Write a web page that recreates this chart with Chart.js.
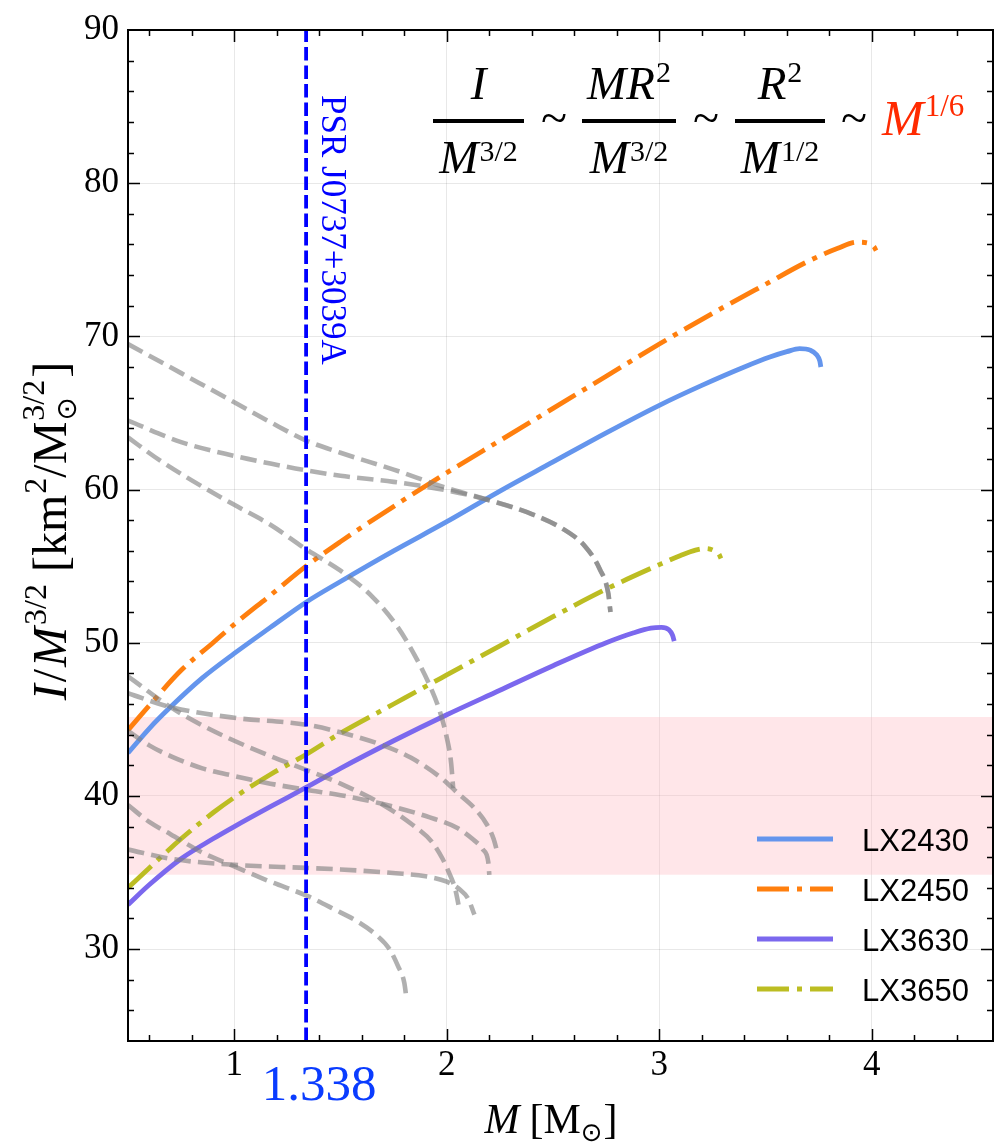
<!DOCTYPE html>
<html>
<head>
<meta charset="utf-8">
<script src="https://cdn.jsdelivr.net/npm/chart.js@4.4.1/dist/chart.umd.min.js"></script>
<style>
  html, body { margin: 0; padding: 0; background: #fff; }
  #wrap { width: 996px; height: 1142px; }
</style>
</head>
<body>
<div id="wrap"><canvas id="chart" width="996" height="1142"></canvas></div>
<script>
// axis ranges and ticks
const massMin = 0.5, massMax = 4.57;
const inertiaMin = 24, inertiaMax = 90;
const massTicks = [1, 2, 3, 4];
const inertiaTicks = [30, 40, 50, 60, 70, 80, 90];
const psrMass = 1.338;
const bandMass = [0.5, 4.57];
const bandHigh = [45.15, 45.15];
const bandLow = [34.85, 34.85];

// LX models
const lx2430M = [0.5, 0.6, 0.7, 0.85, 1.0, 1.17, 1.338, 1.5, 1.75, 2.0, 2.25, 2.5, 2.75, 3.0, 3.2, 3.4, 3.52, 3.6, 3.66, 3.71, 3.74, 3.755, 3.76];
const lx2430I = [42.8, 44.4, 45.8, 47.7, 49.3, 51.0, 52.65, 54.0, 56.0, 57.9, 59.9, 61.8, 63.7, 65.5, 66.8, 68.0, 68.65, 69.0, 69.2, 69.1, 68.8, 68.4, 68.0];
const lx2450M = [0.5, 0.6, 0.75, 0.9, 1.0, 1.17, 1.338, 1.5, 1.75, 2.0, 2.25, 2.5, 2.75, 3.0, 3.25, 3.5, 3.7, 3.84, 3.93, 3.98, 4.01, 4.02];
const lx2450I = [44.3, 45.9, 48.2, 50.0, 51.2, 53.1, 55.0, 56.6, 58.9, 61.1, 63.2, 65.3, 67.4, 69.5, 71.5, 73.4, 74.9, 75.75, 76.15, 76.1, 75.85, 75.6];
const lx3630M = [0.5, 0.6, 0.75, 0.9, 1.0, 1.17, 1.338, 1.5, 1.75, 2.0, 2.25, 2.5, 2.75, 2.88, 2.96, 3.01, 3.045, 3.062, 3.07];
const lx3630I = [32.9, 34.2, 35.9, 37.2, 38.0, 39.3, 40.55, 41.8, 43.6, 45.3, 46.9, 48.5, 50.0, 50.65, 50.95, 51.0, 50.85, 50.5, 50.1];
const lx3650M = [0.5, 0.6, 0.75, 0.9, 1.0, 1.17, 1.338, 1.5, 1.75, 2.0, 2.25, 2.5, 2.75, 3.0, 3.1, 3.17, 3.22, 3.26, 3.28, 3.29];
const lx3650I = [34.0, 35.3, 37.2, 38.9, 39.9, 41.4, 42.7, 44.1, 46.0, 47.9, 49.8, 51.7, 53.5, 55.1, 55.7, 56.05, 56.15, 56.0, 55.8, 55.5];

// other EoS (grey dashed)
const eos1M = [0.5, 0.75, 1.0, 1.17, 1.338, 1.5, 1.75, 2.0, 2.2, 2.4, 2.55, 2.65, 2.72, 2.76, 2.77];
const eos1I = [69.5, 67.6, 65.7, 64.4, 63.2, 62.4, 61.3, 60.1, 59.3, 58.4, 57.4, 56.3, 54.8, 53.2, 52.0];
const eos2M = [0.5, 0.75, 1.0, 1.17, 1.338, 1.5, 1.75, 2.0, 2.2, 2.4, 2.55, 2.65, 2.72, 2.76, 2.77];
const eos2I = [64.5, 63.1, 62.2, 61.7, 61.25, 60.9, 60.5, 59.95, 59.3, 58.4, 57.4, 56.3, 54.8, 53.2, 52.0];
const eos3M = [0.5, 0.65, 0.8, 1.0, 1.17, 1.338, 1.5, 1.65, 1.77, 1.86, 1.92, 1.97, 2.0, 2.02, 2.03];
const eos3I = [63.4, 61.9, 60.6, 59.0, 57.7, 56.1, 54.7, 53.0, 51.0, 48.9, 47.2, 45.4, 43.8, 42.2, 40.5];
const eos4M = [0.5, 0.7, 0.85, 1.0, 1.17, 1.338, 1.5, 1.69, 1.84, 1.93, 1.98, 2.01, 2.04, 2.055];
const eos4I = [47.8, 45.8, 44.6, 43.6, 42.6, 41.7, 40.8, 39.5, 38.1, 37.0, 35.9, 35.0, 33.9, 32.9];
const eos5M = [0.5, 0.7, 1.0, 1.338, 1.5, 1.7, 1.83, 1.98, 2.05, 2.13, 2.19, 2.22, 2.24];
const eos5I = [46.7, 45.8, 45.1, 44.65, 44.15, 43.3, 42.5, 41.1, 40.2, 39.2, 38.1, 37.2, 36.2];
const eos6M = [0.5, 0.6, 0.7, 0.85, 1.0, 1.17, 1.338, 1.5, 1.69, 1.92, 2.05, 2.12, 2.17, 2.195, 2.2];
const eos6I = [44.25, 43.3, 42.6, 41.8, 41.3, 40.8, 40.4, 40.05, 39.5, 38.6, 37.9, 37.2, 36.5, 35.7, 34.85];
const eos7M = [0.5, 0.6, 0.7, 0.85, 1.0, 1.17, 1.338, 1.47, 1.58, 1.67, 1.73, 1.77, 1.8, 1.81];
const eos7I = [39.4, 38.3, 37.5, 36.3, 35.4, 34.4, 33.5, 32.6, 31.8, 30.9, 30.0, 28.9, 27.8, 26.8];
const eos8M = [0.5, 0.7, 1.0, 1.338, 1.5, 1.76, 1.9, 2.0, 2.06, 2.1, 2.13];
const eos8I = [36.5, 35.9, 35.5, 35.3, 35.2, 34.95, 34.75, 34.4, 33.9, 33.3, 32.25];

const greyEos = [[eos1M, eos1I], [eos2M, eos2I], [eos3M, eos3I], [eos4M, eos4I],
                 [eos5M, eos5I], [eos6M, eos6I], [eos7M, eos7I], [eos8M, eos8I]];

const dashDot = [32, 8, 5, 8];
const models = [
  { label: 'LX2430', m: lx2430M, v: lx2430I, color: '#6495ed', dash: [] },
  { label: 'LX2450', m: lx2450M, v: lx2450I, color: '#ff7f0e', dash: dashDot },
  { label: 'LX3630', m: lx3630M, v: lx3630I, color: '#7b68ee', dash: [] },
  { label: 'LX3650', m: lx3650M, v: lx3650I, color: '#bcbd22', dash: dashDot }
];

const pts = (xs, ys) => xs.map((x, i) => ({ x: x, y: ys[i] }));

function curve(xs, ys, color, dash, width) {
  return {
    data: pts(xs, ys),
    borderColor: color,
    borderDash: dash,
    borderWidth: width,
    showLine: true,
    pointRadius: 0,
    fill: false,
    cubicInterpolationMode: 'monotone'
  };
}

const datasets = [];
// index 0 is drawn on top
datasets.push({
  data: pts([psrMass, psrMass], [inertiaMin, inertiaMax]),
  borderColor: '#0000ff', borderDash: [13.5, 5], borderWidth: 3.8,
  showLine: true, pointRadius: 0, fill: false
});
greyEos.forEach(([m, v]) => datasets.push(curve(m, v, 'rgba(128,128,128,0.62)', [16.5, 7.2], 4.6)));
models.forEach(md => datasets.push(curve(md.m, md.v, md.color, md.dash, 4.8)));
datasets.push({
  data: pts(bandMass, bandHigh), borderWidth: 0, borderColor: 'rgba(0,0,0,0)',
  backgroundColor: 'rgba(255,182,193,0.35)', fill: '+1', showLine: true, pointRadius: 0
});
datasets.push({
  data: pts(bandMass, bandLow), borderWidth: 0, borderColor: 'rgba(0,0,0,0)',
  showLine: true, pointRadius: 0, fill: false
});

const serif = '"Liberation Serif", "DejaVu Serif", serif';
const sans = '"Liberation Sans", Arial, sans-serif';

// draw a run of text pieces, returns the width
function runsWidth(ctx, runs) {
  let w = 0;
  runs.forEach(r => {
    ctx.font = r.font;
    const rw = ctx.measureText(r.t).width;
    if (!r.stack) w += rw + (r.gap || 0);
  });
  return w;
}
function drawRuns(ctx, runs, x, y) {
  runs.forEach(r => {
    ctx.font = r.font;
    ctx.fillStyle = r.color || '#000';
    ctx.fillText(r.t, x + (r.dx || 0), y + (r.dy || 0));
    if (!r.stack) x += ctx.measureText(r.t).width + (r.gap || 0);
  });
}
function drawRunsCentered(ctx, runs, cx, y) {
  drawRuns(ctx, runs, cx - runsWidth(ctx, runs) / 2, y);
}

const it46 = 'italic 47px ' + serif;
const rm29 = '30px ' + serif;

function drawFraction(ctx, num, den, x0, x1) {
  const cx = (x0 + x1) / 2;
  drawRunsCentered(ctx, num, cx, 99);
  drawRunsCentered(ctx, den, cx, 173);
  ctx.fillStyle = '#000';
  ctx.fillRect(x0, 119, x1 - x0, 4);
}

const frame = {
  id: 'frame',
  beforeDraw(chart) {
    const ctx = chart.ctx;
    ctx.save();
    ctx.fillStyle = '#fff';
    ctx.fillRect(0, 0, chart.width, chart.height);
    ctx.restore();
  },
  afterDraw(chart) {
    const ctx = chart.ctx;
    const a = chart.chartArea;
    const xs = chart.scales.x, ys = chart.scales.y;
    ctx.save();

    // inward ticks on all four sides
    ctx.strokeStyle = '#000';
    ctx.lineWidth = 1.5;
    ctx.beginPath();
    for (let k = 3; k <= 22; k++) {
      const px = Math.round(xs.getPixelForValue(k / 5)) + 0.5;
      const len = k % 5 === 0 ? 12 : 6;
      ctx.moveTo(px, a.bottom); ctx.lineTo(px, a.bottom - len);
      ctx.moveTo(px, a.top); ctx.lineTo(px, a.top + len);
    }
    for (let v = 26; v <= 88; v += 2) {
      const py = Math.round(ys.getPixelForValue(v)) + 0.5;
      const len = v % 10 === 0 ? 12 : 6;
      ctx.moveTo(a.left, py); ctx.lineTo(a.left + len, py);
      ctx.moveTo(a.right, py); ctx.lineTo(a.right - len, py);
    }
    ctx.stroke();
    ctx.lineWidth = 2;
    ctx.strokeRect(a.left, a.top, a.right - a.left, a.bottom - a.top);

    // legend
    ctx.textBaseline = 'alphabetic';
    models.forEach((md, i) => {
      const yy = 839 + i * 50;
      ctx.strokeStyle = md.color;
      ctx.lineWidth = 5;
      ctx.setLineDash(md.dash);
      ctx.beginPath();
      ctx.moveTo(757, yy); ctx.lineTo(833, yy);
      ctx.stroke();
      ctx.setLineDash([]);
      ctx.font = '31px ' + sans;
      ctx.fillStyle = '#000';
      ctx.fillText(md.label, 862, yy + 12);
    });

    // pulsar mass marker
    const psrX = xs.getPixelForValue(psrMass);
    ctx.save();
    ctx.translate(psrX + 16, 95);
    ctx.rotate(Math.PI / 2);
    ctx.font = '35px ' + serif;
    ctx.fillStyle = '#0000ff';
    ctx.fillText('PSR J0737+3039A', 0, 0);
    ctx.restore();
    ctx.font = '51px ' + serif;
    ctx.fillStyle = 'rgb(10,60,255)';
    ctx.textAlign = 'center';
    ctx.fillText('1.338', psrX + 13, 1100);
    ctx.textAlign = 'left';

    // scaling relation
    drawFraction(ctx, [{ t: 'I', font: it46 }],
      [{ t: 'M', font: it46, gap: 1 }, { t: '3/2', font: rm29, dy: -12 }], 433, 524);
    drawFraction(ctx, [{ t: 'MR', font: it46, gap: 1 }, { t: '2', font: rm29, dy: -17 }],
      [{ t: 'M', font: it46, gap: 1 }, { t: '3/2', font: rm29, dy: -12 }], 582, 676);
    drawFraction(ctx, [{ t: 'R', font: it46, gap: 1 }, { t: '2', font: rm29, dy: -17 }],
      [{ t: 'M', font: it46, gap: 1 }, { t: '1/2', font: rm29, dy: -12 }], 735, 825);
    ctx.font = '48px ' + serif;
    ctx.fillStyle = '#000';
    ctx.textAlign = 'center';
    ctx.textBaseline = 'middle';
    [554, 706, 854].forEach(tx => ctx.fillText('~', tx, 121));
    ctx.textAlign = 'left';
    ctx.textBaseline = 'alphabetic';
    drawRuns(ctx, [{ t: 'M', font: 'italic 50px ' + serif, color: '#ff2a00', gap: 1 },
      { t: '1/6', font: '31px ' + serif, color: '#ff2a00', dy: -19 }], 882, 135);

    // axis titles
    const xTitle = [
      { t: 'M', font: 'italic 42px ' + serif, gap: 10 },
      { t: '[M', font: '42px ' + serif },
      { t: '\u2299', font: '26px "DejaVu Sans", sans-serif', dy: 8, gap: 1 },
      { t: ']', font: '42px ' + serif }
    ];
    drawRunsCentered(ctx, xTitle, 551, 1133);

    const yTitle = [
      { t: 'I', font: 'italic 48px ' + serif, gap: 2 },
      { t: '/', font: '48px ' + serif, gap: 2 },
      { t: 'M', font: 'italic 48px ' + serif, gap: 2 },
      { t: '3/2', font: '32px ' + serif, dy: -20, gap: 12 },
      { t: '[km', font: '48px ' + serif, gap: 1 },
      { t: '2', font: '32px ' + serif, dy: -20 },
      { t: '/M', font: '48px ' + serif, gap: 1 },
      { t: '\u2299', font: '28px "DejaVu Sans", sans-serif', dy: 10, stack: true },
      { t: '3/2', font: '32px ' + serif, dy: -22, gap: 2 },
      { t: ']', font: '48px ' + serif }
    ];
    ctx.save();
    ctx.translate(66, 531);
    ctx.rotate(-Math.PI / 2);
    drawRunsCentered(ctx, yTitle, 0, 0);
    ctx.restore();

    ctx.restore();
  }
};

new Chart(document.getElementById('chart'), {
  type: 'scatter',
  data: { datasets: datasets },
  options: {
    responsive: false,
    animation: false,
    devicePixelRatio: 1,
    layout: { padding: { top: 20, right: 3, left: 0, bottom: 0 } },
    plugins: { legend: { display: false }, tooltip: { enabled: false } },
    scales: {
      x: {
        type: 'linear', min: massMin, max: massMax,
        afterBuildTicks: s => { s.ticks = massTicks.map(v => ({ value: v })); },
        afterFit: s => { s.height = 101; },
        grid: { color: 'rgba(0,0,0,0.09)', lineWidth: 1, drawTicks: false },
        border: { display: false },
        ticks: { color: '#000', padding: 4, maxRotation: 0, font: { family: serif, size: 35 } }
      },
      y: {
        type: 'linear', min: inertiaMin, max: inertiaMax,
        afterBuildTicks: s => { s.ticks = inertiaTicks.map(v => ({ value: v })); },
        afterFit: s => { s.width = 128; },
        grid: { color: 'rgba(0,0,0,0.09)', lineWidth: 1, drawTicks: false },
        border: { display: false },
        ticks: { color: '#000', padding: 9, font: { family: serif, size: 35 } }
      }
    }
  },
  plugins: [frame]
});
</script>
</body>
</html>
